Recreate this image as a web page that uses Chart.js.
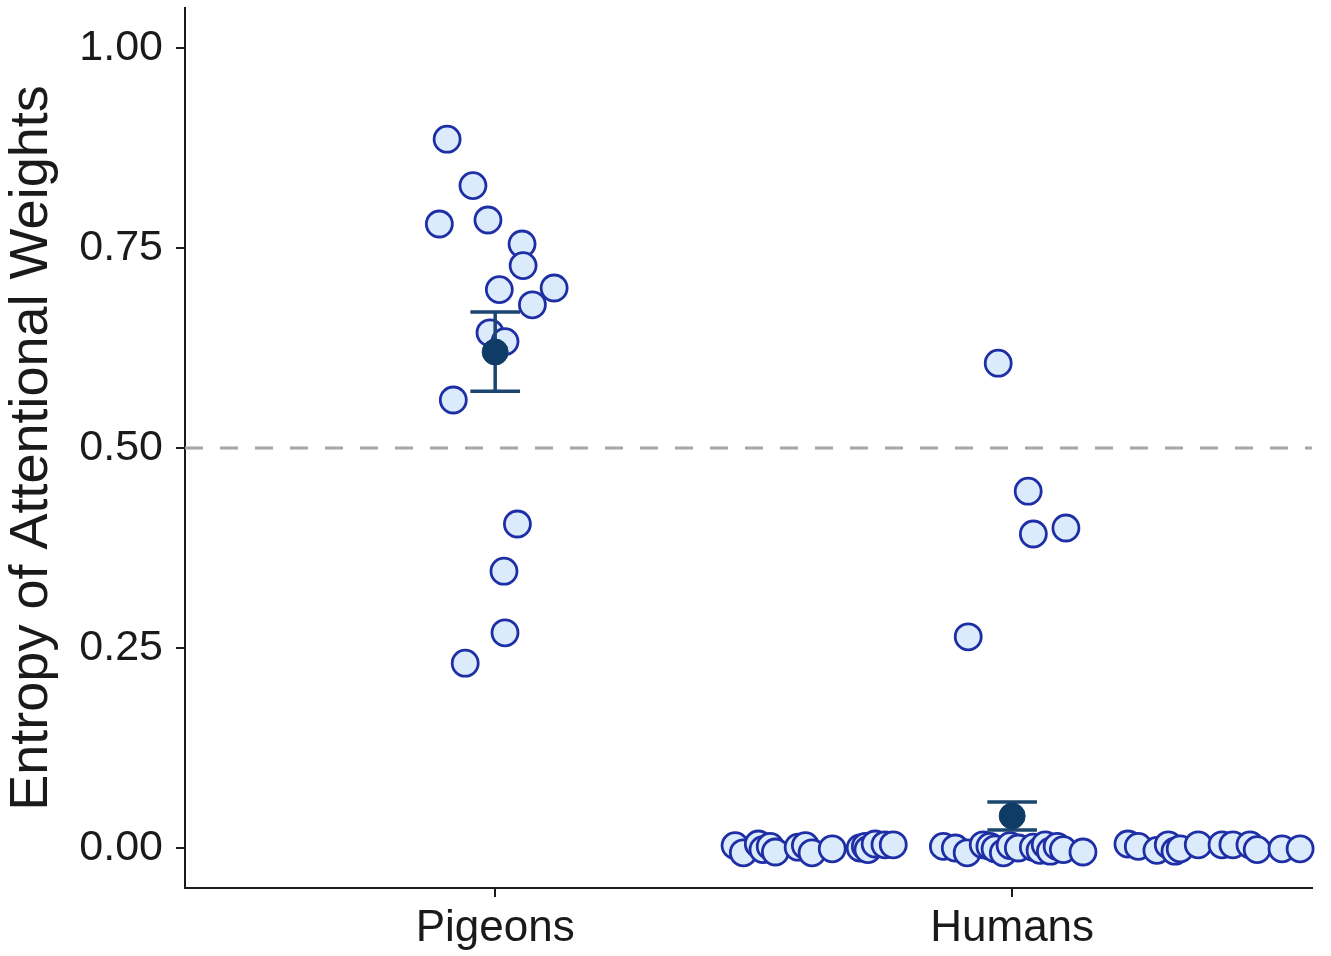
<!DOCTYPE html>
<html>
<head>
<meta charset="utf-8">
<script src="https://cdn.jsdelivr.net/npm/chart.js@4.4.0/dist/chart.umd.min.js"></script>
<style>
  html, body { margin: 0; padding: 0; background: #fff; }
  #wrap { width: 1331px; height: 956px; }
</style>
</head>
<body>
<div id="wrap"><canvas id="mycanvas" width="1331" height="956"></canvas></div>
<script>
// groups on the x axis
var categories = ['Pigeons', 'Humans'];
var yTicks = [0, 0.25, 0.5, 0.75, 1];
var refLine = 0.5;

// pigeons: jitter offset from the category centre, and entropy value
var pigeonOffset = [-0.093, -0.043, -0.108, -0.014, 0.052, 0.054, 0.008, 0.114, 0.072, -0.010, 0.019, -0.081, 0.043, 0.017, 0.019, -0.058];
var pigeonValue  = [0.886, 0.828, 0.780, 0.785, 0.755, 0.728, 0.698, 0.700, 0.679, 0.644, 0.633, 0.560, 0.405, 0.346, 0.269, 0.231];

// humans
var humanOffset = [-0.027, 0.031, 0.041, 0.104, -0.085,
  -0.536, -0.520, -0.491, -0.482, -0.468, -0.458, -0.414, -0.400, -0.387, -0.348, -0.294, -0.284, -0.279, -0.265, -0.246, -0.230,
  -0.133, -0.110, -0.087, -0.056, -0.043, -0.033, -0.017, -0.004, 0.012, 0.041, 0.054, 0.064, 0.074, 0.087, 0.099, 0.137,
  0.224, 0.244, 0.280, 0.302, 0.315, 0.325, 0.360, 0.406, 0.427, 0.460, 0.474, 0.522, 0.557];
var humanValue = [0.606, 0.446, 0.3925, 0.400, 0.264,
  0.003, -0.006, 0.005, -0.002, 0.002, -0.005, 0.001, 0.003, -0.006, -0.001, 0.000, 0.002, -0.002, 0.005, 0.004, 0.004,
  0.002, 0.000, -0.006, 0.004, 0.002, -0.001, -0.006, 0.003, 0.000, 0.001, -0.003, 0.004, -0.004, 0.002, -0.002, -0.005,
  0.005, 0.002, -0.003, 0.004, -0.004, -0.001, 0.004, 0.004, 0.004, 0.004, -0.002, -0.001, -0.001];

// group means with error bars
var meanValue = [0.620, 0.040];
var errLow    = [0.571, 0.0225];
var errHigh   = [0.670, 0.0575];

var pts = [];
for (var i in pigeonValue) pts.push({x: 1 + pigeonOffset[i], y: pigeonValue[i]});
for (var j in humanValue) pts.push({x: 2 + humanOffset[j], y: humanValue[j]});

var means = [];
for (var k in meanValue) means.push({x: k * 1 + 1, y: meanValue[k], lo: errLow[k], hi: errHigh[k]});

var fontFam = '"Liberation Sans", Arial, Helvetica, sans-serif';

// dashed line + error bars, positioned through the scales
var extras = {
  id: 'extras',
  beforeDatasetsDraw: function(chart) {
    var c = chart.ctx, ys = chart.scales.y, a = chart.chartArea;
    var yy = ys.getPixelForValue(refLine);
    c.save();
    c.strokeStyle = '#a6a6a6';
    c.lineWidth = 3;
    c.setLineDash([18, 17]);
    c.beginPath();
    c.moveTo(a.left, yy);
    c.lineTo(a.right, yy);
    c.stroke();
    c.restore();
  },
  beforeDatasetDraw: function(chart, args) {
    if (args.index !== 0) return;
    var c = chart.ctx, xs = chart.scales.x, ys = chart.scales.y;
    c.save();
    c.strokeStyle = '#1b4670';
    c.lineWidth = 3.5;
    means.forEach(function(m) {
      var x = xs.getPixelForValue(m.x);
      var x0 = xs.getPixelForValue(m.x - 0.048), x1 = xs.getPixelForValue(m.x + 0.048);
      var y0 = ys.getPixelForValue(m.lo), y1 = ys.getPixelForValue(m.hi);
      c.beginPath();
      c.moveTo(x, y0); c.lineTo(x, y1);
      c.moveTo(x0, y0); c.lineTo(x1, y0);
      c.moveTo(x0, y1); c.lineTo(x1, y1);
      c.stroke();
    });
    c.restore();
  }
};

var ctx = document.getElementById('mycanvas');
var chart = new Chart(ctx, {
  type: 'scatter',
  data: {
    datasets: [
      {
        label: 'Mean',
        data: means,
        order: 0,
        pointRadius: 13,
        pointBackgroundColor: '#0f3c66',
        pointBorderColor: '#0f3c66',
        pointBorderWidth: 1,
        clip: false
      },
      {
        label: 'Entropy',
        data: pts,
        order: 1,
        pointRadius: 13,
        pointBackgroundColor: '#dcebfb',
        pointBorderColor: '#1e2fa6',
        pointBorderWidth: 2.8,
        clip: false
      }
    ]
  },
  options: {
    responsive: false,
    animation: false,
    events: [],
    layout: { autoPadding: false, padding: { top: 8, right: 19, left: 0, bottom: 0 } },
    plugins: { legend: { display: false }, tooltip: { enabled: false } },
    scales: {
      x: {
        type: 'linear',
        min: 0.4,
        max: 2.58,
        afterBuildTicks: function(s) { s.ticks = categories.map(function(c, i) { return {value: i + 1}; }); },
        afterFit: function(s) { s.height = 68; s.paddingLeft = 0; s.paddingRight = 0; },
        ticks: {
          callback: function(v) { return categories[v - 1]; },
          font: { family: fontFam, size: 44 },
          color: '#1a1a1a',
          padding: 5,
          maxRotation: 0
        },
        grid: { drawOnChartArea: false, color: '#1a1a1a', lineWidth: 2, tickLength: 9 },
        border: { display: true, color: '#1a1a1a', width: 2 }
      },
      y: {
        type: 'linear',
        min: -0.05,
        max: 1.05,
        afterBuildTicks: function(s) { s.ticks = yTicks.map(function(v) { return {value: v}; }); },
        afterFit: function(s) { s.width = 185; s.paddingTop = 0; s.paddingBottom = 0; },
        ticks: {
          callback: function(v) { return v.toFixed(2); },
          font: { family: fontFam, size: 43 },
          color: '#1a1a1a',
          padding: 13
        },
        grid: { drawOnChartArea: false, color: '#1a1a1a', lineWidth: 2, tickLength: 9 },
        border: { display: true, color: '#1a1a1a', width: 2 },
        title: {
          display: true,
          text: 'Entropy of Attentional Weights',
          font: { family: fontFam, size: 54 },
          color: '#1a1a1a',
          padding: { top: 0, bottom: 0 }
        }
      }
    }
  },
  plugins: [extras]
});
</script>
</body>
</html>
